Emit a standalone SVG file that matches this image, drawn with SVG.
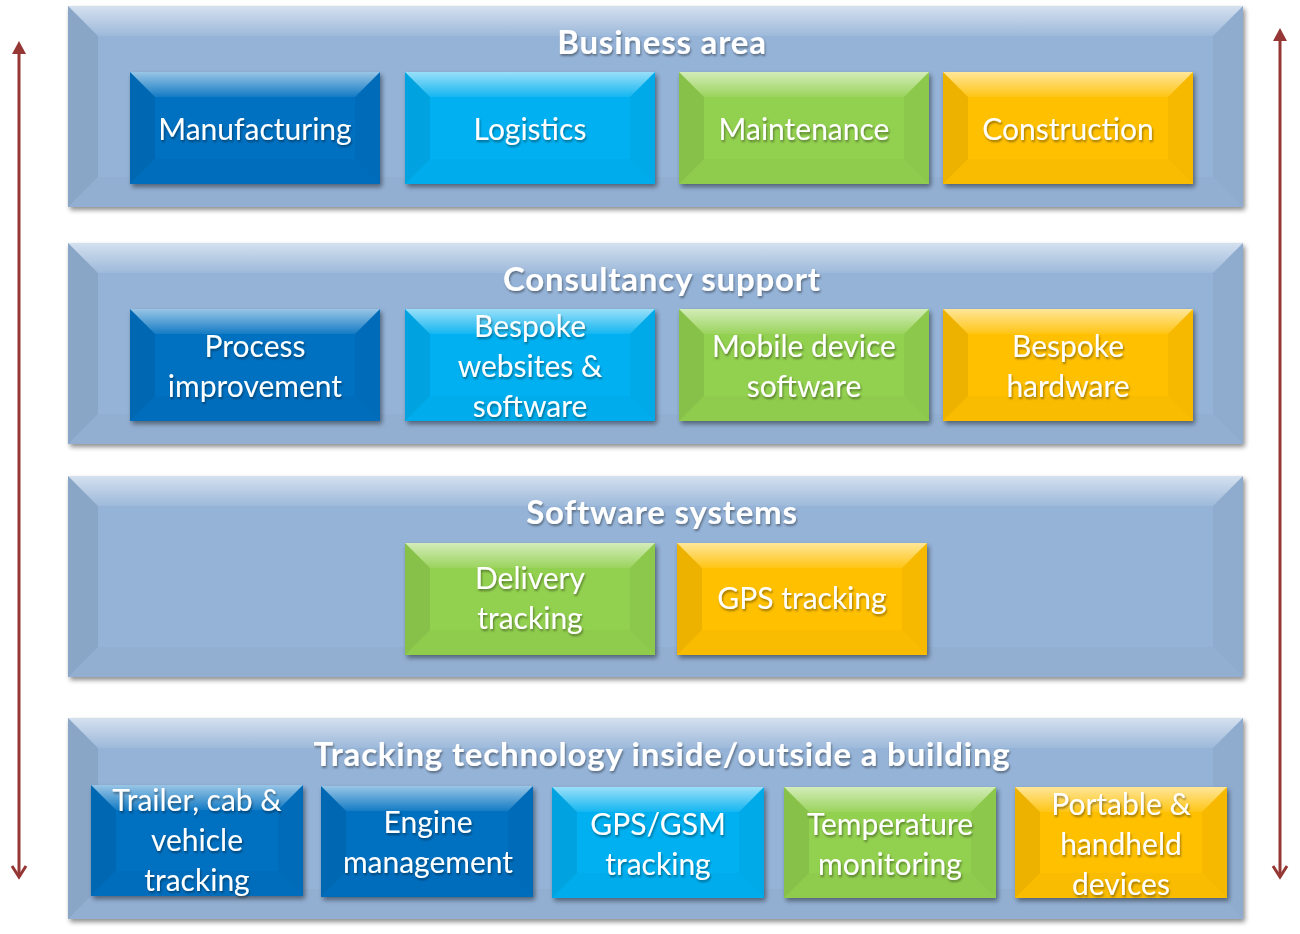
<svg xmlns="http://www.w3.org/2000/svg" xmlns:xlink="http://www.w3.org/1999/xlink" width="1300" height="934" viewBox="0 0 1300 934">
<defs>
<style>
.band{fill:#95B3D7}
.c1{fill:#0070C0}.c2{fill:#00B0F0}.c3{fill:#92D050}.c4{fill:#FFC000}
.bt{fill:url(#gTop)}
.bl{fill:#000;opacity:0.07}
.br{fill:#000;opacity:0.035}
.bb{fill:#000;opacity:0.02}
.title{font-family:Lato,"Open Sans",sans-serif;font-weight:bold;font-size:33px;letter-spacing:0.8px;fill:#fff;text-anchor:middle;filter:url(#ts)}
.lbl{font-family:Lato,"Open Sans",sans-serif;font-size:30px;fill:#fff;text-anchor:middle;filter:url(#ts)}
.arr{stroke:#953735;stroke-width:3;fill:none}
</style>
<linearGradient id="gTop" x1="0" y1="0" x2="0" y2="1">
<stop offset="0" stop-color="#fff" stop-opacity="0.6"/>
<stop offset="1" stop-color="#fff" stop-opacity="0.08"/>
</linearGradient>
<filter id="sh" x="-5%" y="-5%" width="112%" height="120%">
<feGaussianBlur in="SourceAlpha" stdDeviation="2.5"/>
<feOffset dx="2" dy="3"/>
<feComponentTransfer><feFuncA type="linear" slope="0.45"/></feComponentTransfer>
<feMerge><feMergeNode/><feMergeNode in="SourceGraphic"/></feMerge>
</filter>
<filter id="ts" x="-10%" y="-30%" width="120%" height="160%">
<feGaussianBlur in="SourceAlpha" stdDeviation="1.2"/>
<feOffset dx="1" dy="1.5"/>
<feComponentTransfer><feFuncA type="linear" slope="0.4"/></feComponentTransfer>
<feMerge><feMergeNode/><feMergeNode in="SourceGraphic"/></feMerge>
</filter>
<g id="bandBev">
<polygon class="bt" points="0,0 1175,0 1145,30 30,30"/>
<polygon class="bl" points="0,0 30,30 30,171 0,201"/>
<polygon class="br" points="1175,0 1175,201 1145,171 1145,30"/>
<polygon class="bb" points="0,201 30,171 1145,171 1175,201"/>
</g>
<g id="boxBev">
<polygon class="bt" points="0,0 250,0 225,25 25,25"/>
<polygon class="bl" points="0,0 25,25 25,87 0,112"/>
<polygon class="br" points="250,0 250,112 225,87 225,25"/>
<polygon class="bb" points="0,112 25,87 225,87 250,112"/>
</g>
<g id="boxBev4">
<polygon class="bt" points="0,0 212,0 187,25 25,25"/>
<polygon class="bl" points="0,0 25,25 25,86 0,111"/>
<polygon class="br" points="212,0 212,111 187,86 187,25"/>
<polygon class="bb" points="0,111 25,86 187,86 212,111"/>
</g>
</defs>

<g id="connectors">
<line class="arr" x1="19" y1="52" x2="19" y2="877"/>
<polygon points="19,41 12,54 26,54" fill="#953735"/>
<polyline class="arr" points="12,866 19,877 26,866"/>
<line class="arr" x1="1280" y1="39" x2="1280" y2="877"/>
<polygon points="1280,28 1273,41 1287,41" fill="#953735"/>
<polyline class="arr" points="1273,866 1280,877 1287,866"/>
</g>

<g id="band-business" transform="translate(68,6)">
<rect class="band" width="1175" height="201" filter="url(#sh)"/>
<use xlink:href="#bandBev"/>
<text class="title" x="594" y="48">Business area</text>
</g>
<g id="band-consultancy" transform="translate(68,243)">
<rect class="band" width="1175" height="201" filter="url(#sh)"/>
<use xlink:href="#bandBev"/>
<text class="title" x="594" y="48">Consultancy support</text>
</g>
<g id="band-software" transform="translate(68,476)">
<rect class="band" width="1175" height="201" filter="url(#sh)"/>
<use xlink:href="#bandBev"/>
<text class="title" x="594" y="48">Software systems</text>
</g>
<g id="band-tracking" transform="translate(68,718)">
<rect class="band" width="1175" height="201" filter="url(#sh)"/>
<use xlink:href="#bandBev"/>
<text class="title" x="594" y="48">Tracking technology inside/outside a building</text>
</g>

<g id="manufacturing" transform="translate(130,72)">
<rect class="c1" width="250" height="112" filter="url(#sh)"/><use xlink:href="#boxBev"/>
<text class="lbl" x="125" y="68">Manufacturing</text>
</g>
<g id="logistics" transform="translate(405,72)">
<rect class="c2" width="250" height="112" filter="url(#sh)"/><use xlink:href="#boxBev"/>
<text class="lbl" x="125" y="68">Logistics</text>
</g>
<g id="maintenance" transform="translate(679,72)">
<rect class="c3" width="250" height="112" filter="url(#sh)"/><use xlink:href="#boxBev"/>
<text class="lbl" x="125" y="68">Maintenance</text>
</g>
<g id="construction" transform="translate(943,72)">
<rect class="c4" width="250" height="112" filter="url(#sh)"/><use xlink:href="#boxBev"/>
<text class="lbl" x="125" y="68">Construction</text>
</g>

<g id="process-improvement" transform="translate(130,309)">
<rect class="c1" width="250" height="112" filter="url(#sh)"/><use xlink:href="#boxBev"/>
<text class="lbl" x="125" y="48">Process</text>
<text class="lbl" x="125" y="88">improvement</text>
</g>
<g id="bespoke-websites" transform="translate(405,309)">
<rect class="c2" width="250" height="112" filter="url(#sh)"/><use xlink:href="#boxBev"/>
<text class="lbl" x="125" y="28">Bespoke</text>
<text class="lbl" x="125" y="68">websites &amp;</text>
<text class="lbl" x="125" y="108">software</text>
</g>
<g id="mobile-device" transform="translate(679,309)">
<rect class="c3" width="250" height="112" filter="url(#sh)"/><use xlink:href="#boxBev"/>
<text class="lbl" x="125" y="48">Mobile device</text>
<text class="lbl" x="125" y="88">software</text>
</g>
<g id="bespoke-hardware" transform="translate(943,309)">
<rect class="c4" width="250" height="112" filter="url(#sh)"/><use xlink:href="#boxBev"/>
<text class="lbl" x="125" y="48">Bespoke</text>
<text class="lbl" x="125" y="88">hardware</text>
</g>

<g id="delivery-tracking" transform="translate(405,543)">
<rect class="c3" width="250" height="112" filter="url(#sh)"/><use xlink:href="#boxBev"/>
<text class="lbl" x="125" y="46">Delivery</text>
<text class="lbl" x="125" y="86">tracking</text>
</g>
<g id="gps-tracking" transform="translate(677,543)">
<rect class="c4" width="250" height="112" filter="url(#sh)"/><use xlink:href="#boxBev"/>
<text class="lbl" x="125" y="66">GPS tracking</text>
</g>

<g id="trailer" transform="translate(91,785)">
<rect class="c1" width="212" height="111" filter="url(#sh)"/><use xlink:href="#boxBev4"/>
<text class="lbl" x="106" y="26">Trailer, cab &amp;</text>
<text class="lbl" x="106" y="66">vehicle</text>
<text class="lbl" x="106" y="106">tracking</text>
</g>
<g id="engine" transform="translate(321,786)">
<rect class="c1" width="212" height="111" filter="url(#sh)"/><use xlink:href="#boxBev4"/>
<text class="lbl" x="107" y="47">Engine</text>
<text class="lbl" x="107" y="87">management</text>
</g>
<g id="gps-gsm" transform="translate(552,787)">
<rect class="c2" width="212" height="111" filter="url(#sh)"/><use xlink:href="#boxBev4"/>
<text class="lbl" x="106" y="48">GPS/GSM</text>
<text class="lbl" x="106" y="88">tracking</text>
</g>
<g id="temperature" transform="translate(784,787)">
<rect class="c3" width="212" height="111" filter="url(#sh)"/><use xlink:href="#boxBev4"/>
<text class="lbl" x="106" y="48">Temperature</text>
<text class="lbl" x="106" y="88">monitoring</text>
</g>
<g id="portable" transform="translate(1015,787)">
<rect class="c4" width="212" height="111" filter="url(#sh)"/><use xlink:href="#boxBev4"/>
<text class="lbl" x="106" y="28">Portable &amp;</text>
<text class="lbl" x="106" y="68">handheld</text>
<text class="lbl" x="106" y="108">devices</text>
</g>
</svg>
